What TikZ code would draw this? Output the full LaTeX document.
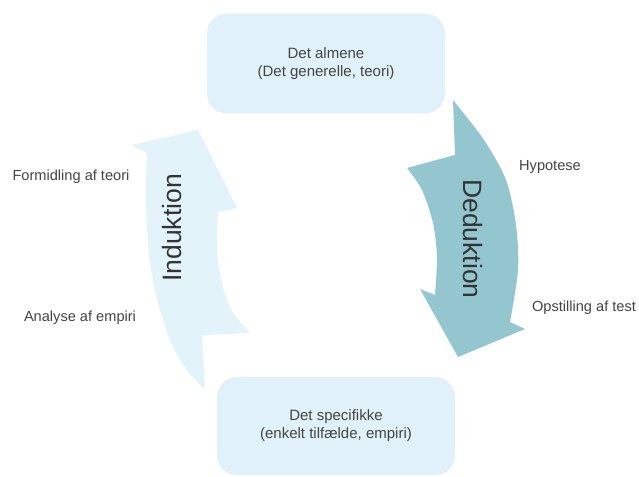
\documentclass[tikz,border=0pt]{standalone}
\usepackage{fontspec}
\setmainfont{Liberation Sans}
\usepackage{tikz}
\usetikzlibrary{positioning}
\usetikzlibrary{calc}
\definecolor{boxblue}{HTML}{E0F1F9}
\definecolor{indukblue}{HTML}{E2F3FA}
\definecolor{dedukblue}{HTML}{94C6D0}
\definecolor{textgray}{HTML}{444444}
\tikzstyle{levelbox}=[rectangle,rounded corners=20pt,fill=boxblue,minimum width=238pt,minimum height=100pt,inner sep=0pt,align=center,text=textgray,font=\fontsize{15}{18}\selectfont]
\tikzstyle{steplabel}=[text=textgray,font=\fontsize{14.6}{16}\selectfont,inner sep=0pt]
\tikzstyle{bigword}=[text=black!80,font=\fontsize{26.5}{30}\selectfont,inner sep=0pt]

\begin{document}
\begin{tikzpicture}[x=1pt,y=-1pt]
    \useasboundingbox (0,0) rectangle (639,476);

    % the two levels
    \node[levelbox] (almen) at (326,63.5) {Det almene\\(Det generelle, teori)};
    \node[levelbox,minimum height=98pt] (specifik) at (336,426) {Det specifikke\\(enkelt tilf\ae lde, empiri)};

    % deduktion arrow, down on the right
    \fill[dedukblue] (453,100) -- plot[smooth] coordinates {(453,100) (484,140) (506,180) (516,225) (518,270) (510,322)}
        -- (525,329) -- (458,357) -- (420,289) -- (435,295)
        -- plot[smooth] coordinates {(435,295) (437,257) (433,223) (422,190) (407,168)}
        -- (455,155) -- cycle;

    % induktion arrow, up on the left
    \fill[indukblue] (198,130) -- (237,208) -- (218,212)
        -- plot[smooth] coordinates {(218,212) (217,253) (223,287) (233,313) (250,333)}
        -- (202,335) -- (205,390)
        -- plot[smooth] coordinates {(205,390) (183,365) (168,335) (156,295) (149,253) (146,200) (147,153)}
        -- (132,145) -- cycle;

    \node[bigword,rotate=-90] (deduk) at (473,239) {Deduktion};
    \node[bigword,rotate=90] (induk) at (172,228) {Induktion};

    \foreach \pos/\name/\label in {{(550,167)/hyp/Hypotese}, {(584,308)/test/Opstilling af test},
        {(71,177)/formid/Formidling af teori}, {(80,318)/analyse/Analyse af empiri}}
        \node[steplabel] (\name) at \pos {\label};

\end{tikzpicture}
\end{document}
